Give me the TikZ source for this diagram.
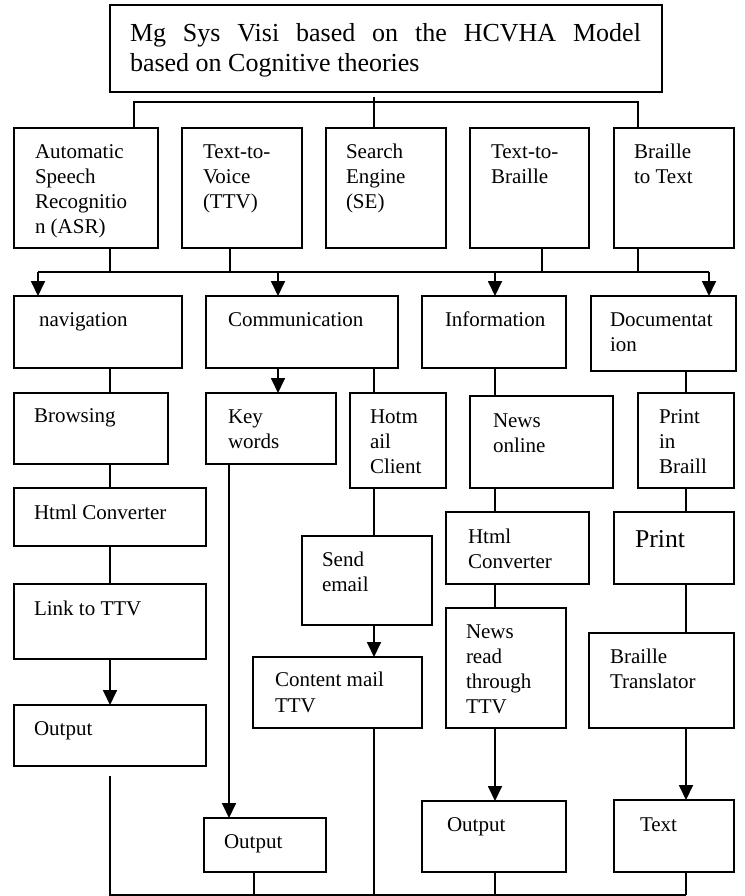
\documentclass[tikz,border=0pt]{standalone}
\usepackage{fontspec}
\setmainfont{Liberation Serif}
\usetikzlibrary{arrows.meta,calc}
% #1 width, #2 height, #3 left pad, #4 first baseline from top, #5 text
\newcommand\bxt[5]{\parbox[t][#2][t]{#1}{\raggedright\leftskip=#3\relax\vspace*{\dimexpr#4-\ht\strutbox\relax}\strut#5}}
\tikzset{
  box/.style={draw, line width=2pt, inner sep=0pt, outer sep=0pt, anchor=north west, font=\fontsize{21}{25}\selectfont},
  ln/.style={line width=1.8pt},
  arr/.style={ln, -{Triangle[length=15pt,width=14pt]}}
}
\begin{document}
\begin{tikzpicture}[x=1pt,y=-1pt]
\useasboundingbox (0,0) rectangle (744,896);
% title
\node[box, font=\fontsize{26}{30}\selectfont] (title) at (110,5) {\bxt{552pt}{87pt}{20pt}{37pt}{\makebox[511pt][s]{Mg Sys Visi based on the HCVHA Model}\\based on Cognitive theories}};
% row 2
\node[box] (asr) at (14,128) {\bxt{144pt}{120pt}{21pt}{31pt}{Automatic\\Speech\\Recognitio\\n (ASR)}};
\node[box] (ttv) at (182,128) {\bxt{120pt}{120pt}{21pt}{31pt}{Text-to-\\Voice\\(TTV)}};
\node[box] (se) at (326,128) {\bxt{120pt}{120pt}{20pt}{31pt}{Search\\Engine\\(SE)}};
\node[box] (t2b) at (470,128) {\bxt{119pt}{120pt}{21pt}{31pt}{Text-to-\\Braille}};
\node[box] (b2t) at (614,128) {\bxt{120pt}{120pt}{20pt}{31pt}{Braille\\to Text}};
% row 3
\node[box] (nav) at (14,296) {\bxt{168pt}{72pt}{25pt}{30pt}{navigation}};
\node[box] (comm) at (206,296) {\bxt{192pt}{72pt}{22pt}{30pt}{Communication}};
\node[box] (info) at (422,296) {\bxt{144pt}{72pt}{23pt}{30pt}{Information}};
\node[box] (doc) at (591,296) {\bxt{145pt}{75pt}{19pt}{30pt}{Documentat\\ion}};
% row 4
\node[box] (brow) at (14,393) {\bxt{154pt}{71pt}{20pt}{29pt}{Browsing}};
\node[box] (key) at (206,393) {\bxt{130pt}{71pt}{22pt}{30pt}{Key\\words}};
\node[box] (hot) at (350,393) {\bxt{96pt}{95pt}{20pt}{30pt}{Hotm\\ail\\Client}};
\node[box] (news) at (470,396) {\bxt{143pt}{92pt}{23pt}{31pt}{News\\online}};
\node[box] (pib) at (638,393) {\bxt{96pt}{95pt}{21pt}{30pt}{Print\\in\\Braill}};
% row 5
\node[box] (html1) at (14,488) {\bxt{192pt}{58pt}{20pt}{31pt}{Html Converter}};
\node[box] (send) at (302,536) {\bxt{130pt}{89pt}{20pt}{30pt}{Send\\email}};
\node[box] (html2) at (446,512) {\bxt{143pt}{72pt}{22pt}{31pt}{Html\\Converter}};
\node[box, font=\fontsize{25.7}{30}\selectfont] (print) at (614,512) {\bxt{120pt}{72pt}{21pt}{35pt}{Print}};
% row 6
\node[box] (link) at (14,584) {\bxt{192pt}{75pt}{20pt}{31pt}{Link to TTV}};
\node[box] (content) at (253,657) {\bxt{169pt}{71pt}{22pt}{29pt}{Content mail\\[1.5pt]TTV}};
\node[box] (newsread) at (446,608) {\bxt{120pt}{120pt}{20pt}{30pt}{News\\read\\through\\TTV}};
\node[box] (btrans) at (589,633) {\bxt{145pt}{95pt}{21pt}{30pt}{Braille\\Translator}};
% row 7
\node[box] (out1) at (14,705) {\bxt{192pt}{61pt}{20pt}{30pt}{Output}};
\node[box] (out2) at (204,818) {\bxt{122pt}{54pt}{20pt}{30pt}{Output}};
\node[box] (out3) at (422,801) {\bxt{144pt}{71pt}{25pt}{30pt}{Output}};
\node[box] (txt) at (614,800) {\bxt{120pt}{72pt}{26pt}{31pt}{Text}};
% column and junction coordinates
\coordinate (cA) at (110,0);
\coordinate (cB) at (230,0);
\coordinate (cC) at (374,0);
\coordinate (cD) at (542,0);
\coordinate (cE) at (638,0);
\coordinate (cF) at (38,0);
\coordinate (cG) at (278,0);
\coordinate (cH) at (495,0);
\coordinate (cI) at (709,0);
\coordinate (cJ) at (686,0);
\coordinate (cK) at (134,0);
\coordinate (cL) at (229,0);
\coordinate (cM) at (254,0);
\coordinate (hT) at (0,102);
\coordinate (hM) at (0,272);
\coordinate (hB) at (0,895);
% title to row 2
\draw[ln] ([yshift=-5pt]title.south -| cC) -- (se.north -| cC);
\draw[ln] (asr.north -| cK) -- (cK |- hT) -- (cE |- hT) -- (b2t.north -| cE);
% row 2 to row 3
\draw[ln] (asr.south -| cA) -- (cA |- hM);
\draw[ln] (ttv.south -| cB) -- (cB |- hM);
\draw[ln] (t2b.south -| cD) -- (cD |- hM);
\draw[ln] (b2t.south -| cE) -- (cE |- hM);
\draw[ln] (cF |- hM) -- (cI |- hM);
\draw[arr] (cF |- hM) -- (nav.north -| cF);
\draw[arr] (cG |- hM) -- (comm.north -| cG);
\draw[arr] (cH |- hM) -- (info.north -| cH);
\draw[arr] (cI |- hM) -- (doc.north -| cI);
% column 1
\draw[ln] (nav.south -| cA) -- (brow.north -| cA);
\draw[ln] (brow.south -| cA) -- (html1.north -| cA);
\draw[ln] (html1.south -| cA) -- (link.north -| cA);
\draw[arr] (link.south -| cA) -- (out1.north -| cA);
\draw[ln] ([yshift=-10pt]out1.south -| cA) -- (cA |- hB) -- (cJ |- hB);
% column 2
\draw[arr] (comm.south -| cG) -- (key.north -| cG);
\draw[ln] (comm.south -| cC) -- (hot.north -| cC);
\draw[ln] (hot.south -| cC) -- (send.north -| cC);
\draw[arr] (send.south -| cC) -- (content.north -| cC);
\draw[ln] (content.south -| cC) -- (cC |- hB);
\draw[arr] (key.south -| cL) -- (out2.north -| cL);
\draw[ln] (out2.south -| cM) -- (cM |- hB);
% column 3
\draw[ln] (info.south -| cH) -- (news.north -| cH);
\draw[ln] (news.south -| cH) -- (html2.north -| cH);
\draw[ln] (html2.south -| cH) -- (newsread.north -| cH);
\draw[arr] (newsread.south -| cH) -- (out3.north -| cH);
\draw[ln] (out3.south -| cH) -- (cH |- hB);
% column 4
\draw[ln] (doc.south -| cJ) -- (pib.north -| cJ);
\draw[ln] (pib.south -| cJ) -- (print.north -| cJ);
\draw[ln] (print.south -| cJ) -- (btrans.north -| cJ);
\draw[arr] (btrans.south -| cJ) -- (txt.north -| cJ);
\draw[ln] (txt.south -| cJ) -- (cJ |- hB);
\end{tikzpicture}
\end{document}
